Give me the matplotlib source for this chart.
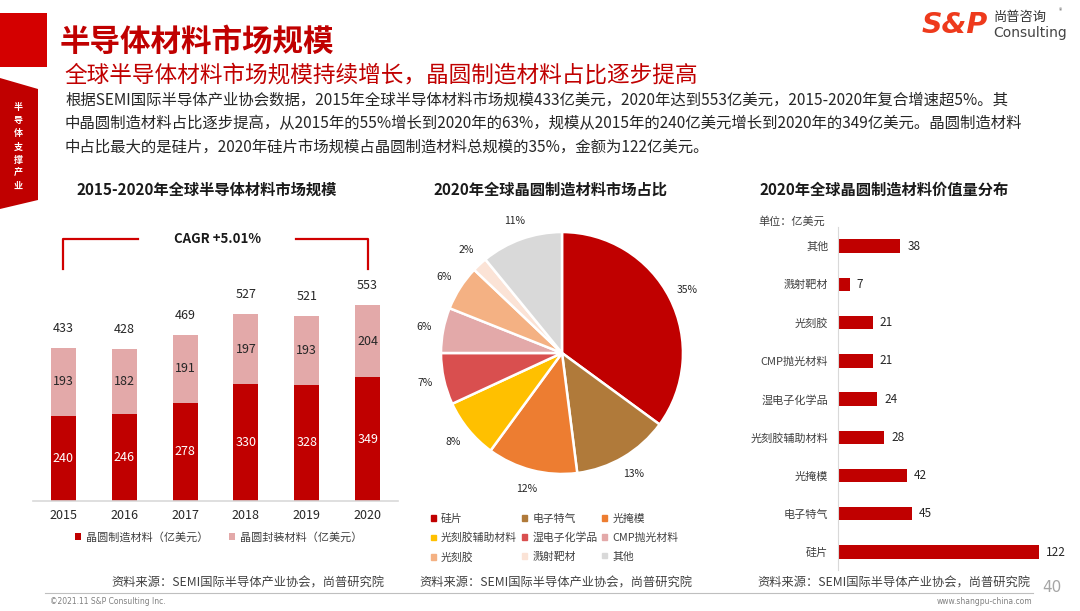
import numpy as np
import matplotlib
matplotlib.use('Agg')
from matplotlib import pyplot as plt
from matplotlib.patches import Rectangle, Polygon, Patch

plt.rcParams['font.family'] = ['Noto Sans CJK SC', 'DejaVu Sans']

# Data
years = ['2015', '2016', '2017', '2018', '2019', '2020']
fab_materials = [240, 246, 278, 330, 328, 349]
pkg_materials = [193, 182, 191, 197, 193, 204]
totals = [433, 428, 469, 527, 521, 553]
cagr_text = 'CAGR +5.01%'

materials = ['硅片', '电子特气', '光掩模', '光刻胶辅助材料', '湿电子化学品',
             'CMP抛光材料', '光刻胶', '溅射靶材', '其他']
material_values = [122, 45, 42, 28, 24, 21, 21, 7, 38]
material_colors = ['#C00000', '#B07A3A', '#ED7D31', '#FFC000', '#D94F4F',
                   '#E3A9A9', '#F4B183', '#FBE3D6', '#D9D9D9']

RED = '#C00000'
PINK = '#E3A9A9'
W, H = 1080, 611


def px(x, y):
    return x / W, 1 - y / H


def box(l, t, r, b):
    return [l / W, 1 - b / H, (r - l) / W, (b - t) / H]


fig = plt.figure(figsize=(10.8, 6.11), dpi=100)
fig.patch.set_facecolor('white')

# header decoration
fig.patches.append(Rectangle(px(0, 67), 47 / W, 54 / H, transform=fig.transFigure,
                             color='#D40000', lw=0))
side = [px(0, 78), px(38, 89), px(38, 200), px(0, 209)]
fig.patches.append(Polygon(side, closed=True, transform=fig.transFigure,
                           color=RED, lw=0))
fig.text(*px(18, 147), '\n'.join('半导体支撑产业'), color='white', fontsize=6.5,
         ha='center', va='center', linespacing=1.6, weight='bold')

fig.text(*px(60, 42), '半导体材料市场规模', color=RED, fontsize=22,
         weight='bold', va='center')
fig.text(*px(64, 75), '全球半导体材料市场规模持续增长，晶圆制造材料占比逐步提高',
         color=RED, fontsize=16.3, va='center')

body = ['根据SEMI国际半导体产业协会数据，2015年全球半导体材料市场规模433亿美元，2020年达到553亿美元，2015-2020年复合增速超5%。其',
        '中晶圆制造材料占比逐步提高，从2015年的55%增长到2020年的63%，规模从2015年的240亿美元增长到2020年的349亿美元。晶圆制造材料',
        '中占比最大的是硅片，2020年硅片市场规模占晶圆制造材料总规模的35%，金额为122亿美元。']
for i, line in enumerate(body):
    fig.text(*px(65, 100 + i * 23.5), line, color='#262626', fontsize=11.1,
             va='center')

# logo
fig.text(*px(922, 25), 'S&P', color='#EE3A1C', fontsize=20.5, weight='heavy',
         style='italic', va='center', family='DejaVu Sans')
fig.text(*px(993, 17), '尚普咨询', color='#333333', fontsize=9.5, va='center')
fig.text(*px(1059, 11), '®', color='#555555', fontsize=5, va='center')
fig.text(*px(993, 33), 'Consulting', color='#444444', fontsize=10, va='center',
         family='DejaVu Sans')

# chart titles
fig.text(*px(207, 190), '2015-2020年全球半导体材料市场规模', fontsize=11,
         weight='bold', ha='center', va='center', color='#1a1a1a')
fig.text(*px(550, 190), '2020年全球晶圆制造材料市场占比', fontsize=11,
         weight='bold', ha='center', va='center', color='#1a1a1a')
fig.text(*px(884, 190), '2020年全球晶圆制造材料价值量分布', fontsize=11,
         weight='bold', ha='center', va='center', color='#1a1a1a')

# ---- left: stacked bars
ax1 = fig.add_axes(box(33, 230, 398, 501))
x = np.arange(len(years))
ax1.bar(x, fab_materials, width=0.41, color=RED, label='晶圆制造材料（亿美元）')
ax1.bar(x, pkg_materials, width=0.41, bottom=fab_materials, color=PINK,
        label='晶圆封装材料（亿美元）')
ax1.set_xlim(-0.5, 5.5)
ax1.set_ylim(0, 765)
for i in range(len(years)):
    ax1.text(x[i], fab_materials[i] / 2, str(fab_materials[i]), color='white',
             ha='center', va='center', fontsize=9)
    ax1.text(x[i], fab_materials[i] + pkg_materials[i] / 2, str(pkg_materials[i]),
             color='#262626', ha='center', va='center', fontsize=9)
    ax1.annotate(str(totals[i]), (x[i], totals[i]), xytext=(0, 14),
                 textcoords='offset points', ha='center', va='center',
                 fontsize=9, color='#262626')
ax1.set_xticks(x)
ax1.set_xticklabels(years, fontsize=9, color='#262626')
ax1.tick_params(length=0, pad=6)
ax1.set_yticks([])
for s in ['top', 'right', 'left']:
    ax1.spines[s].set_visible(False)
ax1.spines['bottom'].set_color('#D9D9D9')
ax1.spines['bottom'].set_linewidth(1.2)

# CAGR bracket
top = max(totals)
y_hi, y_lo = top * 1.338, top * 1.185
ax1.plot([x[0], x[0], 1.22], [y_lo, y_hi, y_hi], color='#D00000', lw=1.6,
         clip_on=False)
ax1.plot([3.83, x[-1], x[-1]], [y_hi, y_hi, y_lo], color='#D00000', lw=1.6,
         clip_on=False)
ax1.text(2.53, y_hi, cagr_text, ha='center', va='center', fontsize=9.5,
         weight='bold', color='#1a1a1a')

ax1.legend(loc='upper left', bbox_to_anchor=px(65, 522), bbox_transform=fig.transFigure,
           ncol=2, frameon=False, fontsize=8, handlelength=0.55, handleheight=0.55,
           handletextpad=0.4, columnspacing=1.9, labelcolor='#404040')

# ---- middle: pie
ax2 = fig.add_axes(box(412, 203, 712, 503))
wedges, _, autotexts = ax2.pie(material_values, colors=material_colors,
                               startangle=90, counterclock=False,
                               autopct='%.0f%%', pctdistance=1.16,
                               wedgeprops=dict(edgecolor='white', linewidth=1.8),
                               textprops=dict(fontsize=7.5, color='#262626'))
ax2.set_xlim(-1.24, 1.24)
ax2.set_ylim(-1.24, 1.24)
ax2.set_aspect('equal')

order = [r * 3 + c for c in range(3) for r in range(3)]
handles = [Patch(color=material_colors[k]) for k in order]
labels = [materials[k] for k in order]
fig.legend(handles, labels, loc='upper left', bbox_to_anchor=px(421, 504),
           ncol=3, frameon=False, fontsize=7.8, handlelength=0.45, handleheight=0.45,
           handletextpad=0.5, columnspacing=0.45, labelspacing=0.8,
           labelcolor='#404040')

# ---- right: horizontal bars
ax3 = fig.add_axes(box(838, 227, 1060, 570))
y = np.arange(len(materials))
ax3.barh(y, material_values, height=0.35, color=RED)
ax3.set_xlim(0, 135)
ax3.set_ylim(-0.47, 8.5)
ax3.set_yticks(y)
ax3.set_yticklabels(materials, fontsize=8, color='#404040')
ax3.set_xticks([])
ax3.tick_params(length=0, pad=7)
for s in ['top', 'right', 'bottom']:
    ax3.spines[s].set_visible(False)
ax3.spines['left'].set_color('#D9D9D9')
for i, v in enumerate(material_values):
    ax3.annotate(str(v), (v, y[i]), xytext=(5, 0), textcoords='offset points',
                 ha='left', va='center', fontsize=8.5, color='#262626')
fig.text(*px(758, 221), '单位：亿美元', fontsize=8, color='#404040', va='center')

# ---- sources and footer
src = '资料来源：SEMI国际半导体产业协会，尚普研究院'
for xc in [248, 556, 894]:
    fig.text(*px(xc, 583), src, fontsize=8.8, ha='center', va='center',
             color='#404040')
fig.add_artist(plt.Line2D([45 / W, 1033 / W], [1 - 593 / H, 1 - 593 / H],
                          color='#BFBFBF', lw=0.8, transform=fig.transFigure))
fig.text(*px(1052, 587), '40', fontsize=11, color='#A6A6A6', ha='center', va='center',
         family='DejaVu Sans')
fig.text(*px(50, 602), '©2021.11 S&P Consulting Inc.', fontsize=5.5, color='#808080',
         va='center', family='DejaVu Sans')
fig.text(*px(1032, 602), 'www.shangpu-china.com', fontsize=5.5, color='#808080',
         va='center', ha='right', family='DejaVu Sans')

fig.savefig('out.png', dpi=100, facecolor='white')
